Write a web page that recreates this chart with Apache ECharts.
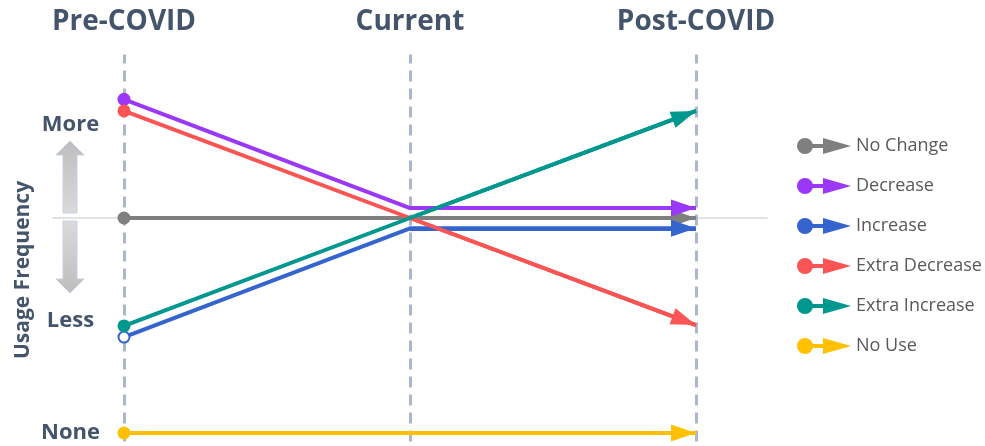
<!DOCTYPE html>
<html>
<head>
<meta charset="utf-8">
<script src="https://cdn.jsdelivr.net/npm/echarts@6/dist/echarts.min.js"></script>
<style>
html, body { margin: 0; padding: 0; background: #fff; }
#main { width: 985px; height: 446px; }
</style>
</head>
<body>
<div id="main"></div>
<script>
// stages along the x axis
var stages = ['Pre-COVID', 'Current', 'Post-COVID'];
// usage level (0 = none, 50 = unchanged)
var noChange = [50, 50, 50];
var decrease = [77.6, 52.3, 52.3];
var increase = [22.3, 47.6, 47.6];
var extraDecrease = [74.9, 50, 25.1];
var extraIncrease = [24.9, 50, 74.9];
var noUse = [0, 0, 0];
// y axis words
var levelValues = [0, 26.2, 71.6];
var levelLabels = ['None', 'Less', 'More'];

var legendOrder = ['No Change', 'Decrease', 'Increase', 'Extra Decrease', 'Extra Increase', 'No Use'];
var groups = {
    'No Use': { data: noUse, color: '#ffc000' },
    'No Change': { data: noChange, color: '#7f7f7f' },
    'Increase': { data: increase, color: '#3564cf', hollow: true },
    'Decrease': { data: decrease, color: '#9b38f8' },
    'Extra Decrease': { data: extraDecrease, color: '#fb5454' },
    'Extra Increase': { data: extraIncrease, color: '#00978f' }
};
var drawOrder = ['No Use', 'No Change', 'Increase', 'Decrease', 'Extra Decrease', 'Extra Increase'];

var ink = '#44546a';
var font = '"Open Sans", "Noto Sans", sans-serif';
var legendIcon = 'path://M0,8A8,8,0,1,1,16,8A8,8,0,1,1,0,8ZM14,6L28,6L28,10L14,10ZM26,0L54,8L26,16Z';
// head with its tip in the middle of the box, so the tip lands on the end point
var arrowHead = 'path://M0,-25L0,0M0,0L8.5,25L-8.5,25Z';

var chart = echarts.init(document.getElementById('main'));

var series = [];
// guides: dashed stage lines + middle line
series.push({
    type: 'line',
    name: 'guides',
    data: [],
    silent: true,
    markLine: {
        silent: true,
        z: 1,
        animation: false,
        symbol: 'none',
        label: { show: false },
        lineStyle: { color: '#abb8cc', width: 3, type: [11, 7] },
        data: [
            { yAxis: noChange[0], lineStyle: { color: '#d9d9d9', width: 1.5, type: 'solid' } },
            { xAxis: 0 }, { xAxis: 1 }, { xAxis: 2 }
        ]
    }
});

drawOrder.forEach(function (name) {
    var g = groups[name];
    series.push({
        type: 'line',
        name: name,
        data: g.data.map(function (v, i) { return [i, v]; }),
        symbol: function (val, params) {
            if (params.dataIndex !== 0) return 'none';
            return g.hollow ? 'emptyCircle' : 'circle';
        },
        symbolSize: g.hollow ? 11 : 13,
        showAllSymbol: true,
        color: g.color,
        itemStyle: { color: g.color, borderWidth: g.hollow ? 3.5 : 0 },
        lineStyle: { color: g.color, width: 4 },
        emphasis: { disabled: true },
        silent: true,
        animation: false
    });
    // last leg drawn again with an arrow head
    series.push({
        type: 'lines',
        name: name,
        coordinateSystem: 'cartesian2d',
        silent: true,
        animation: false,
        symbol: ['none', arrowHead],
        symbolSize: [1, [17, 50]],
        lineStyle: { color: g.color, width: 4, opacity: 1 },
        data: [{ coords: [[1, g.data[1]], [2, g.data[2]]] }]
    });
});

var option = {
    backgroundColor: '#fff',
    animation: false,
    grid: { left: 52.5, right: 217.5, top: 54.6, bottom: 4.4, containLabel: false },
    xAxis: {
        type: 'value',
        position: 'top',
        min: -0.25,
        max: 2.25,
        axisLine: { show: false },
        axisTick: { show: false },
        splitLine: { show: false },
        axisLabel: {
            customValues: [0, 1, 2],
            formatter: function (v) { return stages[Math.round(v)]; },
            color: ink,
            fontSize: 28,
            fontWeight: 'bold',
            fontFamily: font,
            margin: 19
        }
    },
    yAxis: {
        type: 'value',
        min: -2,
        max: 88,
        axisLine: { show: false },
        axisTick: { show: false },
        splitLine: { show: false },
        axisLabel: {
            customValues: levelValues,
            formatter: function (v) { return levelLabels[levelValues.indexOf(v)]; },
            inside: true,
            align: 'center',
            margin: 18,
            color: ink,
            fontSize: 22,
            fontWeight: 'bold',
            fontFamily: font
        }
    },
    legend: {
        orient: 'vertical',
        left: 792,
        top: 131,
        itemWidth: 54,
        itemHeight: 16,
        itemGap: 20,
        selectedMode: false,
        itemStyle: { borderWidth: 0 },
        textStyle: { color: '#595959', fontSize: 18, fontFamily: font, lineHeight: 20 },
        data: legendOrder.map(function (n) { return { name: n, icon: legendIcon }; })
    },
    graphic: [
        {
            type: 'polygon',
            silent: true,
            shape: { points: [[70, 141], [84, 155], [77, 155], [77, 213], [63, 213], [63, 155], [56, 155]] },
            style: {
                fill: new echarts.graphic.LinearGradient(0, 0, 0, 1, [
                    { offset: 0, color: '#bdbdbd' }, { offset: 1, color: '#dadada' }
                ]),
                stroke: '#c5d0e3',
                lineWidth: 1
            }
        },
        {
            type: 'polygon',
            silent: true,
            shape: { points: [[63, 221], [77, 221], [77, 279], [84, 279], [70, 293], [56, 279], [63, 279]] },
            style: {
                fill: new echarts.graphic.LinearGradient(0, 0, 0, 1, [
                    { offset: 0, color: '#dadada' }, { offset: 1, color: '#bdbdbd' }
                ]),
                stroke: '#c5d0e3',
                lineWidth: 1
            }
        },
        {
            type: 'text',
            silent: true,
            x: 23,
            y: 270,
            rotation: Math.PI / 2,
            style: {
                text: 'Usage Frequency',
                fill: ink,
                fontSize: 21,
                fontWeight: 'bold',
                fontFamily: font,
                align: 'center',
                verticalAlign: 'middle'
            }
        }
    ],
    series: series
};

chart.setOption(option);
</script>
</body>
</html>
